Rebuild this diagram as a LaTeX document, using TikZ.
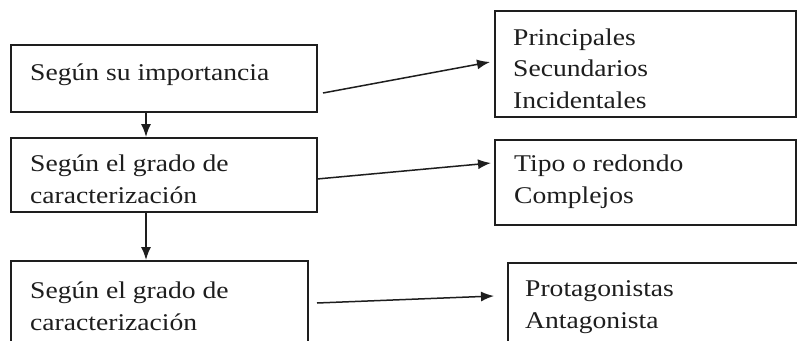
\documentclass[tikz,border=0pt]{standalone}
\usepackage{fontspec}
\setmainfont{Liberation Serif}[FakeStretch=1.15]
\usetikzlibrary{arrows.meta}
\definecolor{ink}{HTML}{1E1E1E}
\tikzset{
  box/.style={draw=ink, line width=1.7pt, anchor=north west, inner sep=0pt},
  txt/.style={text=ink, font=\fontsize{24}{31.5}\selectfont, align=left, anchor=base west, inner sep=0pt},
  arr/.style={draw=ink, line width=1.5pt, -{Latex[length=13pt,width=10pt]}},
}
\begin{document}
\begin{tikzpicture}[x=1pt,y=-1pt]
\useasboundingbox (0,0) rectangle (797,340);
\clip (0,0) rectangle (797,340);
\fill[white] (0,0) rectangle (797,340);
% left boxes
\node[box, minimum width=306pt, minimum height=67pt] (b1) at (10,44) {};
\node[box, minimum width=306pt, minimum height=74pt] (b2) at (10,137) {};
\node[box, minimum width=297pt, minimum height=100pt] (b3) at (10,260) {};
% right boxes
\node[box, minimum width=301pt, minimum height=106pt] (r1) at (494,10) {};
\node[box, minimum width=301pt, minimum height=85pt] (r2) at (494,139) {};
\node[box, minimum width=290pt, minimum height=100pt] (r3) at (507,262) {};
% texts (anchor = baseline of last line)
\node[txt] (t1) at (30,80) {Según su importancia};
\node[txt] (t2) at (30,203) {Según el grado de\\caracterización};
\node[txt] (t3) at (30,330) {Según el grado de\\caracterización};
\node[txt] (u1) at (513,108) {Principales\\Secundarios\\Incidentales};
\node[txt] (u2) at (514,203) {Tipo o redondo\\Complejos};
\node[txt] (u3) at (525,328) {Protagonistas\\Antagonista};
% vertical arrows
\draw[arr] (b1.south -| 146,0) -- (b2.north -| 146,0);
\draw[arr] (b2.south -| 146,0) -- (b3.north -| 146,0);
% horizontal arrows
\coordinate (a1s) at (323,93);
\coordinate (a1e) at (490,62);
\coordinate (a2s) at (317,179);
\coordinate (a2e) at (491,163);
\coordinate (a3s) at (317,303);
\coordinate (a3e) at (494,296);
\draw[arr] (a1s) -- (a1e);
\draw[arr] (a2s) -- (a2e);
\draw[arr] (a3s) -- (a3e);
\end{tikzpicture}
\end{document}
